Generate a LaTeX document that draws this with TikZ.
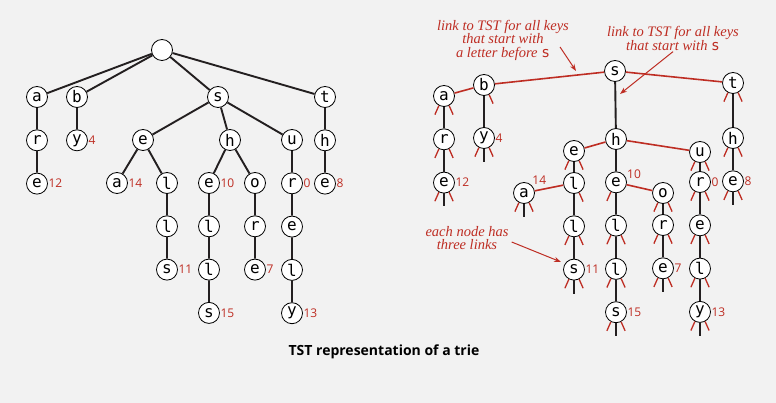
\documentclass[tikz,border=0pt]{standalone}
\usepackage{fontspec}
\setmainfont{Liberation Serif}
\setsansfont{Open Sans}
\setmonofont{DejaVu Sans Mono}
\usepackage{tikz}
\usetikzlibrary{arrows.meta, positioning}
\definecolor{tstred}{HTML}{BE2D23}
\definecolor{linkgray}{HTML}{231F20}
\definecolor{bggray}{HTML}{F2F2F2}

\newcommand{\keyfont}{\ttfamily\fontsize{16}{16}\selectfont}
\newcommand{\numfont}{\sffamily\fontsize{12}{12}\selectfont}
\newcommand{\notefont}{\itshape\fontsize{14.5}{13.5}\selectfont}
\newcommand{\capfont}{\sffamily\bfseries\fontsize{14}{16}\selectfont}
\newcommand{\keych}[1]{{\upshape\ttfamily #1}}

% null links of a TST node
\newcommand{\nullleft}[1]{\draw[nlink] (#1.-118) -- ++(-4,9);}
\newcommand{\nullright}[1]{\draw[nlink] (#1.-62) -- ++(4,9);}
\newcommand{\nullmid}[1]{\draw[link] (#1.south) -- ++(0,13);}

\begin{document}
\begin{tikzpicture}[x=1pt, y=-1pt, node distance=21.5pt,
  key/.style={circle, draw=black, fill=white, line width=0.8pt, minimum size=21pt, inner sep=0pt, font=\keyfont},
  num/.style={text=tstred, font=\numfont, inner sep=0.5pt},
  link/.style={draw=linkgray, line width=1.9pt},
  rlink/.style={draw=tstred, line width=1.6pt},
  nlink/.style={draw=tstred, line width=1.3pt},
  note/.style={text=tstred, font=\notefont, align=center, inner sep=1pt},
  arrow/.style={-{Stealth[length=7pt, width=5pt]}, draw=tstred, line width=1pt},
]
  \fill[bggray] (0,0) rectangle (776,403);
  \useasboundingbox (0,0) rectangle (776,403);

  % trie
  \node[key] (root) at (162,50) {};
  \node[key] (a) at (37,97) {a};
  \node[key, below=of a] (ar) {r};
  \node[key, below=of ar, label={[num]right:12}] (are) {e};
  \node[key] (b) at (77,97) {b};
  \node[key, below=of b, label={[num]right:4}] (by) {y};
  \node[key] (s) at (218,97) {s};
  \node[key] (se) at (143,140) {e};
  \node[key, label={[num]right:14}] (sea) at (117,183) {a};
  \node[key] (sel) at (167,183) {l};
  \node[key, below=of sel] (sell) {l};
  \node[key, below=of sell, label={[num]right:11}] (sells) {s};
  \node[key] (sh) at (230,140) {h};
  \node[key, label={[num]right:10}] (she) at (209,183) {e};
  \node[key, below=of she] (shel) {l};
  \node[key, below=of shel] (shell) {l};
  \node[key, below=of shell, label={[num]right:15}] (shells) {s};
  \node[key] (sho) at (255,183) {o};
  \node[key, below=of sho] (shor) {r};
  \node[key, below=of shor, label={[num]right:7}] (shore) {e};
  \node[key] (su) at (292,140) {u};
  \node[key, below=of su, label={[num]right:0}] (sur) {r};
  \node[key, below=of sur] (sure) {e};
  \node[key, below=of sure] (surel) {l};
  \node[key, below=of surel, label={[num]right:13}] (surely) {y};
  \node[key] (t) at (325,97) {t};
  \node[key, below=of t] (th) {h};
  \node[key, below=of th, label={[num]right:8}] (the) {e};

  \draw[link] (root) -- (a) -- (ar) -- (are);
  \draw[link] (root) -- (b) -- (by);
  \draw[link] (root) -- (s);
  \draw[link] (root) -- (t) -- (th) -- (the);
  \draw[link] (s) -- (se) -- (sea);
  \draw[link] (se) -- (sel) -- (sell) -- (sells);
  \draw[link] (s) -- (sh) -- (she) -- (shel) -- (shell) -- (shells);
  \draw[link] (sh) -- (sho) -- (shor) -- (shore);
  \draw[link] (s) -- (su) -- (sur) -- (sure) -- (surel) -- (surely);

  % TST
  \node[key] (ns) at (615,71) {s};
  \node[key] (nb) at (484,85) {b};
  \node[key] (na) at (444,96) {a};
  \node[key, below=of na] (nar) {r};
  \node[key, below=of nar, label={[num]right:12}] (nare) {e};
  \node[key, label={[num]right:4}] (nby) at (484,138) {y};
  \node[key] (nt) at (733,83) {t};
  \node[key] (nth) at (733,138) {h};
  \node[key, below=of nth, label={[num]right:8}] (nthe) {e};
  \node[key] (nsh) at (616,139) {h};
  \node[key] (nse) at (574,151) {e};
  \node[key] (nsel) at (574,183) {l};
  \node[key, label={[num]45:14}] (nsea) at (524,193) {a};
  \node[key, below=of nsel] (nsell) {l};
  \node[key, below=of nsell, label={[num]right:11}] (nsells) {s};
  \node[key, below=of nsh, label={[num]15:10}] (nshe) {e};
  \node[key, below=of nshe] (nshel) {l};
  \node[key, below=of nshel] (nshell) {l};
  \node[key, below=of nshell, label={[num]right:15}] (nshells) {s};
  \node[key] (nsho) at (663,193) {o};
  \node[key] (nshor) at (663,225) {r};
  \node[key, below=of nshor, label={[num]right:7}] (nshore) {e};
  \node[key] (nsu) at (700,152) {u};
  \node[key, label={[num]right:0}] (nsur) at (700,182) {r};
  \node[key, below=of nsur] (nsure) {e};
  \node[key, below=of nsure] (nsurel) {l};
  \node[key, below=of nsurel, label={[num]right:13}] (nsurely) {y};

  \draw[rlink] (na) -- (nb) -- (ns) -- (nt);
  \draw[rlink] (nse) -- (nsh) -- (nsu);
  \draw[rlink] (nsea) -- (nsel);
  \draw[rlink] (nshe) -- (nsho);
  \draw[link] (na) -- (nar) -- (nare);
  \draw[link] (nb) -- (nby);
  \draw[link] (nt) -- (nth) -- (nthe);
  \draw[link] (ns) -- (nsh) -- (nshe) -- (nshel) -- (nshell) -- (nshells);
  \draw[link] (nse) -- (nsel) -- (nsell) -- (nsells);
  \draw[link] (nsho) -- (nshor) -- (nshore);
  \draw[link] (nsu) -- (nsur) -- (nsure) -- (nsurel) -- (nsurely);

  \foreach \n in {na, nt, nar, nare, nby, nth, nthe, nse, nsu, nsea, nsell, nsells,
                  nshel, nshell, nshells, nsho, nshor, nshore, nsur, nsure, nsurel, nsurely}
    {\nullleft{\n}\nullright{\n}}
  \nullright{nb}
  \nullright{nsel}
  \nullleft{nshe}
  \foreach \n in {nby, nare, nthe, nsea, nsells, nshells, nshore, nsurely}
    {\nullmid{\n}}

  % notes
  \node[note] (n1) at (503,40) {link to TST for all keys\\that start with\\a letter before \keych{s}};
  \node[note] (n2) at (673,38.5) {link to TST for all keys\\that start with \keych{s}};
  \node[note] (n3) at (467,238) {each node has\\three links};
  \coordinate (tip1) at (576,71);
  \coordinate (tip2) at (620,94);
  \coordinate (tip3) at (561,262);
  \draw[arrow] ([shift={(-10,7)}]n1.east) -- (tip1);
  \draw[arrow] (n2.south) -- (tip2);
  \draw[arrow] ([shift={(2,4)}]n3.east) -- (tip3);

  \node[font=\capfont] (cap) at (384,352) {TST representation of a trie};
\end{tikzpicture}
\end{document}
